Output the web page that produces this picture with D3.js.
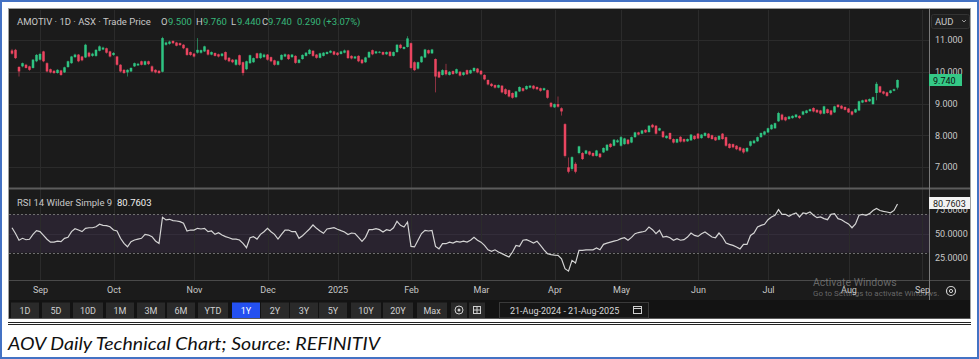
<!DOCTYPE html>
<html>
<head>
<meta charset="utf-8">
<script src="https://cdn.jsdelivr.net/npm/d3@7"></script>
<style>
  html, body { margin: 0; padding: 0; background: #fff; }
  svg { display: block; }
  text { font-family: Roboto, "Open Sans", sans-serif; }
</style>
</head>
<body>
<svg id="chart" width="979" height="359"></svg>
<script>
// ---- data (AOV daily, 21-Aug-2024 .. 21-Aug-2025) ----
var startDate = "2024-08-21", axisEndDate = "2025-09-01";
var asxHolidays = ["2024-12-25", "2024-12-26", "2025-01-01", "2025-01-27",
                   "2025-04-18", "2025-04-21", "2025-04-25", "2025-06-09"];

var open = [
10.67,10.69,10.15,10.17,10.22,10.17,10.12,10.33,10.38,10.64,
10.27,10.08,10.03,9.96,10.04,9.98,10.15,10.27,10.46,10.54,
10.48,10.45,10.60,10.50,10.50,10.66,10.70,10.74,10.64,10.53,
10.48,10.22,10.06,9.98,10.01,10.17,10.20,10.33,10.22,10.33,
10.17,10.06,10.03,10.00,10.85,10.88,10.97,10.92,10.90,10.85,
10.74,10.62,10.57,10.60,10.60,10.64,10.69,10.54,10.59,10.55,
10.50,10.62,10.44,10.38,10.22,10.52,10.30,10.08,10.27,10.30,
10.58,10.43,10.46,10.54,10.46,10.36,10.22,10.38,10.48,10.54,
10.46,10.50,10.28,10.40,10.50,10.56,10.66,10.54,10.44,10.50,
10.56,10.60,10.64,10.60,10.56,10.60,10.67,10.50,10.42,10.50,
10.38,10.30,10.45,10.68,10.58,10.60,10.62,10.55,10.63,10.50,
10.62,10.85,10.72,10.78,10.90,10.30,10.10,10.30,10.45,10.68,
10.58,10.40,10.00,9.90,10.05,9.90,10.02,9.95,10.00,9.90,
10.05,9.95,10.02,10.10,10.03,9.90,9.74,9.62,9.58,9.50,
9.56,9.45,9.42,9.33,9.20,9.38,9.48,9.45,9.50,9.56,
9.52,9.48,9.42,9.42,9.02,8.88,8.98,8.85,8.35,6.99,
6.94,7.10,7.44,7.44,7.42,7.49,7.44,7.35,7.42,7.46,
7.52,7.73,7.67,7.78,7.67,7.72,7.86,7.77,7.94,8.09,
8.05,8.17,8.10,8.33,8.30,8.15,8.12,7.91,8.07,7.88,
7.77,7.95,7.88,7.81,7.84,7.98,8.05,7.91,7.98,8.05,
8.00,7.94,7.86,8.05,7.94,7.73,7.72,7.67,7.62,7.58,
7.49,7.67,7.75,7.81,7.94,8.02,8.09,8.19,8.22,8.44,
8.65,8.57,8.51,8.54,8.57,8.61,8.65,8.70,8.76,8.86,
8.80,8.78,8.68,8.82,8.78,8.72,8.96,8.93,8.89,8.84,
8.75,8.72,8.78,9.03,9.12,9.07,8.98,9.33,9.54,9.38,
9.35,9.33,9.40,9.50];

var high = [
10.72,10.72,10.18,10.29,10.25,10.19,10.40,10.56,10.60,10.66,
10.30,10.10,10.05,10.08,10.06,10.16,10.35,10.50,10.57,10.56,
10.50,10.88,10.63,10.60,10.71,10.83,10.79,10.76,10.66,10.62,
10.50,10.24,10.08,10.08,10.14,10.29,10.28,10.35,10.35,10.35,
10.20,10.08,10.05,11.10,10.95,10.98,10.99,10.94,10.92,10.87,
10.76,10.64,10.59,11.06,10.70,10.82,10.71,10.64,10.61,10.57,
10.59,10.64,10.46,10.40,10.40,10.54,10.32,10.35,10.54,10.45,
10.60,10.60,10.57,10.56,10.48,10.38,10.35,10.55,10.58,10.56,
10.56,10.52,10.40,10.55,10.62,10.72,10.68,10.56,10.60,10.62,
10.64,10.68,10.66,10.62,10.66,10.70,10.69,10.52,10.50,10.52,
10.40,10.47,10.65,10.70,10.66,10.65,10.64,10.64,10.65,10.64,
10.87,10.88,10.80,11.12,10.92,10.33,10.32,10.50,10.72,10.70,
10.72,10.42,10.03,10.08,10.25,10.02,10.04,10.10,10.02,10.00,
10.07,10.07,10.14,10.12,10.05,9.92,9.76,9.65,9.60,9.60,
9.58,9.48,9.44,9.35,9.40,9.54,9.50,9.57,9.58,9.58,
9.54,9.50,9.50,9.44,9.05,9.00,9.22,8.88,8.38,7.30,
7.34,7.15,7.67,7.47,7.54,7.51,7.46,7.54,7.44,7.62,
7.72,7.75,7.88,7.88,7.98,7.92,7.88,7.96,8.11,8.11,
8.17,8.19,8.32,8.36,8.32,8.24,8.14,8.00,8.09,7.90,
7.90,7.97,7.90,7.90,8.04,8.00,8.07,8.04,8.10,8.07,
8.02,7.96,8.00,8.07,7.96,7.75,7.74,7.69,7.64,7.60,
7.62,7.83,7.86,7.96,8.09,8.14,8.24,8.35,8.40,8.74,
8.68,8.59,8.61,8.63,8.67,8.63,8.77,8.80,8.84,8.88,
8.82,8.80,8.93,8.84,8.80,8.93,8.98,8.95,8.91,8.86,
8.77,8.84,9.09,9.12,9.14,9.16,9.22,9.68,9.56,9.40,
9.37,9.43,9.47,9.76];

var low = [
10.54,10.40,9.85,10.14,10.10,10.03,10.10,10.30,10.35,10.30,
9.98,9.95,9.93,9.94,9.87,9.96,10.12,10.25,10.44,10.30,
10.33,10.43,10.45,10.47,10.47,10.64,10.68,10.57,10.45,10.50,
10.19,9.98,9.93,9.85,9.99,10.15,10.18,10.20,10.20,10.21,
9.98,9.95,9.93,9.98,10.82,10.85,10.87,10.80,10.81,10.71,
10.50,10.50,10.45,10.57,10.57,10.62,10.51,10.52,10.48,10.45,
10.47,10.35,10.30,10.27,10.19,10.19,9.88,10.05,10.25,10.28,
10.40,10.40,10.44,10.35,10.30,10.19,10.20,10.36,10.46,10.37,
10.44,10.25,10.26,10.38,10.48,10.54,10.47,10.41,10.42,10.48,
10.54,10.58,10.52,10.50,10.54,10.58,10.40,10.39,10.40,10.30,
10.24,10.28,10.43,10.52,10.56,10.58,10.52,10.53,10.47,10.48,
10.60,10.72,10.70,10.76,10.08,10.02,10.07,10.28,10.43,10.55,
10.56,9.35,9.80,9.88,9.88,9.88,9.90,9.93,9.85,9.87,
9.90,9.93,10.00,9.95,9.89,9.73,9.57,9.52,9.47,9.48,
9.32,9.27,9.19,9.15,9.17,9.36,9.37,9.43,9.48,9.44,
9.42,9.37,9.40,9.15,8.87,8.86,8.87,8.62,7.30,6.80,
6.88,6.80,7.40,7.22,7.40,7.36,7.32,7.33,7.28,7.44,
7.50,7.60,7.65,7.76,7.64,7.70,7.70,7.75,7.92,8.00,
8.03,8.07,8.08,8.22,8.02,8.13,7.91,7.89,7.85,7.74,
7.75,7.77,7.77,7.79,7.82,7.85,7.88,7.89,7.96,7.90,
7.86,7.82,7.84,7.86,7.64,7.58,7.59,7.53,7.49,7.42,
7.46,7.64,7.73,7.79,7.92,8.00,8.07,8.17,8.20,8.42,
8.46,8.44,8.49,8.52,8.55,8.51,8.63,8.68,8.74,8.72,
8.70,8.65,8.66,8.68,8.62,8.70,8.86,8.82,8.78,8.70,
8.62,8.70,8.76,9.01,9.03,9.05,8.96,9.10,9.33,9.28,
9.21,9.31,9.38,9.44];

var close = [
10.57,10.43,10.01,10.27,10.12,10.06,10.38,10.53,10.56,10.33,
10.01,9.98,9.96,10.06,9.90,10.14,10.33,10.48,10.54,10.33,
10.36,10.85,10.48,10.57,10.69,10.80,10.76,10.60,10.48,10.59,
10.22,10.01,9.96,10.06,10.12,10.27,10.25,10.22,10.33,10.24,
10.01,9.98,9.96,11.06,10.92,10.95,10.90,10.82,10.84,10.74,
10.53,10.53,10.48,10.69,10.68,10.80,10.54,10.62,10.50,10.48,
10.57,10.38,10.33,10.30,10.38,10.22,9.96,10.33,10.52,10.43,
10.43,10.58,10.54,10.38,10.33,10.22,10.33,10.53,10.55,10.40,
10.54,10.28,10.38,10.53,10.60,10.69,10.50,10.44,10.58,10.60,
10.62,10.66,10.54,10.53,10.64,10.67,10.43,10.42,10.48,10.33,
10.27,10.45,10.62,10.55,10.64,10.63,10.54,10.62,10.50,10.62,
10.85,10.75,10.78,11.05,10.12,10.05,10.30,10.48,10.70,10.58,
10.70,9.85,9.82,10.05,9.92,10.00,9.93,10.08,9.88,9.98,
9.92,10.05,10.12,9.98,9.92,9.76,9.60,9.55,9.50,9.58,
9.35,9.30,9.22,9.18,9.38,9.52,9.40,9.55,9.56,9.47,
9.45,9.40,9.48,9.18,8.90,8.98,8.90,8.75,7.35,6.85,
7.31,6.85,7.65,7.25,7.52,7.39,7.35,7.52,7.31,7.60,
7.70,7.63,7.86,7.84,7.94,7.90,7.73,7.94,8.09,8.02,
8.15,8.09,8.30,8.25,8.05,8.22,7.94,7.98,7.88,7.77,
7.88,7.80,7.80,7.88,8.02,7.88,7.90,8.02,8.07,7.92,
7.88,7.84,7.98,7.88,7.67,7.60,7.62,7.56,7.52,7.46,
7.60,7.81,7.83,7.94,8.07,8.12,8.22,8.33,8.38,8.70,
8.49,8.47,8.59,8.61,8.65,8.54,8.75,8.78,8.82,8.75,
8.72,8.68,8.91,8.70,8.65,8.91,8.89,8.84,8.80,8.72,
8.65,8.82,9.07,9.10,9.05,9.14,9.20,9.62,9.35,9.31,
9.24,9.41,9.45,9.74];

var rsi = [
56,50,43,45,43.5,44,49,53,52,48,
44,41,41,42,41.5,45,46,52,55,53.6,
52,55.4,56,56,57,59.6,58.5,58.2,57,53.6,
52.6,45,39.7,36.2,41.5,43.2,44.2,45,49,48.4,
46.7,42.2,39.7,66.9,64.1,64.8,63.5,63,62.3,60.6,
52.6,53.6,53.6,55.4,54.7,55.4,51.9,52.6,49.1,50.9,
48.4,46.7,45.6,44.2,44.2,43.2,39.7,35.2,45.6,46.7,
44.2,49.1,51.9,55.4,51.9,49.1,44.2,49.1,53.6,53.6,
51.9,51.9,45,47.7,51.2,54.7,58.9,55.4,52.6,50.2,
54.7,55.4,56.1,54.5,53,51.6,49,50.5,50,46,
41.8,46,54,54,55,54,51.6,54,53,56,
62.7,58.5,56.8,62,36.6,36,43,50,53.3,52.6,
53.3,36.6,34,39.4,39.4,41,40,41.8,41,42,
41,43,46,43,41,37.6,33,31.4,33,30.7,
29,27.2,25.5,30.7,37.6,36.6,43,43.6,42,40,
42,37.6,33,29,28,27.5,27.2,23.7,13.3,10.8,
22,19.2,32.4,32.4,33,33,33,35,33,38.7,
40,41,42,43,44.6,45.6,43,46,49.8,51,
51.6,52.6,56.8,54,49.8,53.3,46.3,47,45.6,43,
44.6,43,43.6,46.3,50.5,48,47,49.8,51.6,49,
46.3,45.6,50.5,46.3,40,38.7,37.6,36,34,38.7,
38.7,48,50.5,56.8,58.5,59.6,64.4,67.2,69,74.9,
70,70,68,70,71.4,67.2,71.4,70.7,72.4,69,
66.5,67.2,65.5,64.4,70,70.7,65.5,64.4,62,60,
56,60,69,70,69,70.7,74,76,74,73,
72.4,71.5,74,80.7603];

var priceTicks = [7, 8, 9, 10, 11];
var rsiTicks = [25, 50, 75];
var rsiBand = [30, 70];
var ranges = ["1D", "5D", "10D", "1M", "3M", "6M", "YTD", "1Y", "2Y", "3Y", "5Y", "10Y", "20Y", "Max"];
var activeRange = "1Y";
var dateRangeLabel = "21-Aug-2024 - 21-Aug-2025";
var caption = "AOV Daily Technical Chart; Source: REFINITIV";

// ---- trading calendar ----
var isoFmt = d3.utcFormat("%Y-%m-%d");
var days = d3.utcDays(new Date(startDate), d3.utcDay.offset(new Date(axisEndDate), 1))
  .filter(function(d) {
    var wd = d.getUTCDay();
    return wd !== 0 && wd !== 6 && asxHolidays.indexOf(isoFmt(d)) < 0;
  });
var monthIdx = [];
days.forEach(function(d, i) {
  if (i > 0 && d.getUTCMonth() !== days[i - 1].getUTCMonth()) monthIdx.push(i);
});
function monthLabel(i) {
  var d = days[i];
  return d.getUTCMonth() === 0 ? String(d.getUTCFullYear()) : d3.utcFormat("%b")(d);
}

// ---- colours ----
var UP = "#2fc482", DOWN = "#ea4560", BG = "#1b1b1b", GRID = "#2b2b2b", TXT = "#c8c8c8";

var svg = d3.select("#chart");

// outer frame
svg.append("rect").attr("x", 1).attr("y", 1).attr("width", 977).attr("height", 357)
  .attr("fill", "#fff").attr("stroke", "#4472c4").attr("stroke-width", 2);

// dark panel
svg.append("rect").attr("x", 8.5).attr("y", 8.5).attr("width", 962).attr("height", 310)
  .attr("fill", BG).attr("stroke", "#a0a0a0").attr("stroke-width", 1);
svg.append("rect").attr("x", 9).attr("y", 300).attr("width", 961).attr("height", 18.5)
  .attr("fill", "#131313");

// scales
var plotRight = 929;
var x = d3.scaleLinear().domain([0, days.length - 1]).range([12, 12 + 3.5 * (days.length - 1)]);
var yP = d3.scaleLinear().domain([7, 11]).range([167, 40]);
var yR = d3.scaleLinear().domain([30, 70]).range([252.7, 214.3]);

// clip paths
var defs = svg.append("defs");
defs.append("clipPath").attr("id", "clipP").append("rect")
  .attr("x", 9).attr("y", 30).attr("width", plotRight - 9).attr("height", 157);
defs.append("clipPath").attr("id", "clipR").append("rect")
  .attr("x", 9).attr("y", 190).attr("width", plotRight - 9).attr("height", 89);

// RSI band
svg.append("rect").attr("x", 9).attr("width", plotRight - 9)
  .attr("y", yR(rsiBand[1])).attr("height", yR(rsiBand[0]) - yR(rsiBand[1]))
  .attr("fill", "#29232f");

// grid lines
var grid = svg.append("g");
grid.selectAll(".hg").data(priceTicks).enter().append("line")
  .attr("x1", 9).attr("x2", plotRight)
  .attr("y1", function(d) { return Math.round(yP(d)) + 0.5; })
  .attr("y2", function(d) { return Math.round(yP(d)) + 0.5; })
  .attr("stroke", GRID);
grid.append("line").attr("x1", 9).attr("x2", plotRight)
  .attr("y1", Math.round(yR(50)) + 0.5).attr("y2", Math.round(yR(50)) + 0.5)
  .attr("stroke", "#332d3a");
grid.selectAll(".vg").data(monthIdx).enter().append("line")
  .attr("x1", function(d) { return Math.round(x(d)) + 0.5; })
  .attr("x2", function(d) { return Math.round(x(d)) + 0.5; })
  .attr("y1", 10).attr("y2", 280)
  .attr("stroke", GRID);

// RSI 30/70 dashed lines
svg.selectAll(".band").data(rsiBand).enter().append("line")
  .attr("x1", 9).attr("x2", plotRight)
  .attr("y1", function(d) { return Math.round(yR(d)) + 0.5; })
  .attr("y2", function(d) { return Math.round(yR(d)) + 0.5; })
  .attr("stroke", "#6e6e6e").attr("stroke-dasharray", "2,2");

// candles
var idx = d3.range(close.length);
var cg = svg.append("g").attr("clip-path", "url(#clipP)");
cg.selectAll(".wick").data(idx).enter().append("line")
  .attr("x1", function(i) { return x(i); }).attr("x2", function(i) { return x(i); })
  .attr("y1", function(i) { return yP(high[i]); }).attr("y2", function(i) { return yP(low[i]); })
  .attr("stroke", function(i) { return close[i] >= open[i] ? UP : DOWN; })
  .attr("stroke-opacity", 0.55).attr("stroke-width", 1);
cg.selectAll(".body").data(idx).enter().append("rect")
  .attr("x", function(i) { return x(i) - 1.25; }).attr("width", 2.5)
  .attr("y", function(i) { return yP(Math.max(open[i], close[i])); })
  .attr("height", function(i) { return Math.max(1, Math.abs(yP(open[i]) - yP(close[i]))); })
  .attr("fill", function(i) { return close[i] >= open[i] ? UP : DOWN; });

// RSI line
var line = d3.line().x(function(d, i) { return x(i); }).y(function(d) { return yR(d); });
svg.append("path").datum(rsi).attr("clip-path", "url(#clipR)")
  .attr("d", line).attr("fill", "none").attr("stroke", "#d4d4d4").attr("stroke-width", 1.2);

// pane separators
svg.append("line").attr("x1", 9).attr("x2", 970).attr("y1", 188.5).attr("y2", 188.5)
  .attr("stroke", "#5c5c5c").attr("stroke-width", 2);
svg.append("line").attr("x1", 9).attr("x2", 970).attr("y1", 280.5).attr("y2", 280.5)
  .attr("stroke", "#4a4a4a");

// OS watermark sits underneath the time-axis labels, as in the screenshot
svg.append("text").attr("x", 813).attr("y", 286).text("Activate Windows")
  .attr("fill", "#8a8a8a").attr("fill-opacity", 0.7).style("font-size", "10.5px");
svg.append("text").attr("x", 813).attr("y", 296).text("Go to Settings to activate Windows.")
  .attr("fill", "#8a8a8a").attr("fill-opacity", 0.7).style("font-size", "8px");

svg.append("line").attr("x1", plotRight + 0.5).attr("x2", plotRight + 0.5).attr("y1", 9).attr("y2", 300)
  .attr("stroke", "#7a7a7a");

// axes
function styleAxis(g) {
  g.select(".domain").remove();
  g.selectAll("text").attr("fill", TXT).style("font-size", "9px")
    .style("font-family", "Roboto, sans-serif");
}
svg.append("g").attr("transform", "translate(" + plotRight + ",0)")
  .call(d3.axisRight(yP).tickValues(priceTicks).tickFormat(d3.format(".3f")).tickSize(0).tickPadding(6))
  .call(styleAxis);
svg.append("g").attr("transform", "translate(" + plotRight + ",0)")
  .call(d3.axisRight(yR).tickValues(rsiTicks).tickFormat(d3.format(".4f")).tickSize(0).tickPadding(6))
  .call(styleAxis);
svg.append("g").attr("transform", "translate(0,284)")
  .call(d3.axisBottom(x).tickValues(monthIdx).tickFormat(monthLabel).tickSize(0).tickPadding(3))
  .call(styleAxis);

// last price / last rsi tags
var last = close.length - 1;
svg.append("rect").attr("x", plotRight).attr("y", 74).attr("width", 33).attr("height", 12)
  .attr("fill", "#34c986");
svg.append("text").attr("x", plotRight + 4).attr("y", 83.5).text(close[last].toFixed(3))
  .attr("fill", "#0e0e0e").style("font-size", "9px");
svg.append("rect").attr("x", plotRight).attr("y", 197).attr("width", 41).attr("height", 12)
  .attr("fill", "#f2f2f2");
svg.append("text").attr("x", plotRight + 4).attr("y", 206.5).text(rsi[last].toFixed(4))
  .attr("fill", "#1a1a1a").style("font-size", "9px");

// AUD selector
svg.append("rect").attr("x", 931.5).attr("y", 14.5).attr("width", 38).attr("height", 14)
  .attr("fill", "#1f1f1f").attr("stroke", "#333").attr("rx", 2);
svg.append("text").attr("x", 935).attr("y", 25).text("AUD").attr("fill", TXT).style("font-size", "9.5px");
svg.append("path").attr("d", "M962,20 l2,2 l2,-2").attr("fill", "none").attr("stroke", "#999");

// header legend
var chg = close[last] - close[last - 1];
var pct = chg / close[last - 1] * 100;
var GREEN = "#37b77a";
var header = [
  { t: "AMOTIV · 1D · ASX · Trade Price", x: 17, c: TXT },
  { t: "O", x: 161, c: TXT }, { t: open[last].toFixed(3), x: 168, c: GREEN },
  { t: "H", x: 196, c: TXT }, { t: high[last].toFixed(3), x: 203, c: GREEN },
  { t: "L", x: 231, c: TXT }, { t: low[last].toFixed(3), x: 237, c: GREEN },
  { t: "C", x: 262, c: TXT }, { t: close[last].toFixed(3), x: 268, c: GREEN },
  { t: chg.toFixed(3), x: 297, c: GREEN },
  { t: "(+" + pct.toFixed(2) + "%)", x: 323, c: GREEN }
];
svg.selectAll(".hdr").data(header).enter().append("text")
  .attr("x", function(d) { return d.x; }).attr("y", 25)
  .text(function(d) { return d.t; })
  .attr("fill", function(d) { return d.c; }).style("font-size", "9.5px");

svg.append("text").attr("x", 17).attr("y", 206).text("RSI 14 Wilder Simple 9")
  .attr("fill", TXT).style("font-size", "9.5px");
svg.append("text").attr("x", 117).attr("y", 206).text(rsi[last].toFixed(4))
  .attr("fill", "#f0f0f0").style("font-size", "9.5px");

// gear icon by the axis
var gear = svg.append("g").attr("transform", "translate(951,291)");
gear.append("circle").attr("r", 4.5).attr("fill", "none").attr("stroke", "#cfcfcf").attr("stroke-width", 1.2);
gear.append("circle").attr("r", 1.6).attr("fill", "none").attr("stroke", "#cfcfcf").attr("stroke-width", 1);

// range toolbar
var btnX = [25, 56, 88, 120, 151, 181, 213, 246, 275, 304, 333, 366, 398, 432];
var tb = svg.append("g");
tb.selectAll(".btn").data(ranges).enter().append("rect")
  .attr("x", function(d, i) { return btnX[i] - (d.length > 2 ? 15 : 14); })
  .attr("width", function(d) { return d.length > 2 ? 30 : 28; })
  .attr("y", 302.5).attr("height", 15.5)
  .attr("fill", function(d) { return d === activeRange ? "#2450f0" : "#2a2a2a"; });
tb.selectAll(".btnt").data(ranges).enter().append("text")
  .attr("x", function(d, i) { return btnX[i]; }).attr("y", 313.5)
  .attr("text-anchor", "middle").text(function(d) { return d; })
  .attr("fill", function(d) { return d === activeRange ? "#fff" : "#d0d0d0"; })
  .style("font-size", "9px");
tb.append("rect").attr("x", 451).attr("y", 302.5).attr("width", 16).attr("height", 15.5).attr("fill", "#2a2a2a");
tb.append("rect").attr("x", 469).attr("y", 302.5).attr("width", 16).attr("height", 15.5).attr("fill", "#2a2a2a");
tb.append("circle").attr("cx", 459).attr("cy", 310).attr("r", 4).attr("fill", "none").attr("stroke", "#cfcfcf");
tb.append("circle").attr("cx", 459).attr("cy", 310).attr("r", 1.5).attr("fill", "#cfcfcf");
tb.append("rect").attr("x", 473.5).attr("y", 306.5).attr("width", 7).attr("height", 7)
  .attr("fill", "none").attr("stroke", "#cfcfcf");
tb.append("path").attr("d", "M477,306.5 v7 M473.5,310 h7").attr("stroke", "#cfcfcf");

// date range box
tb.append("rect").attr("x", 499.5).attr("y", 302.5).attr("width", 149).attr("height", 15.5)
  .attr("fill", "#161616").attr("stroke", "#3a3a3a");
tb.append("text").attr("x", 510).attr("y", 313.5).text(dateRangeLabel)
  .attr("fill", "#d6d6d6").style("font-size", "9px");
tb.append("rect").attr("x", 633.5).attr("y", 306.5).attr("width", 8).attr("height", 7)
  .attr("fill", "none").attr("stroke", "#cfcfcf");
tb.append("line").attr("x1", 633.5).attr("x2", 641.5).attr("y1", 308.5).attr("y2", 308.5).attr("stroke", "#cfcfcf");

// double rule and caption
svg.append("line").attr("x1", 8).attr("x2", 971).attr("y1", 322.5).attr("y2", 322.5).attr("stroke", "#222");
svg.append("line").attr("x1", 8).attr("x2", 971).attr("y1", 324.5).attr("y2", 324.5).attr("stroke", "#222");
svg.append("text").attr("x", 8).attr("y", 350).text(caption)
  .attr("fill", "#111").style("font-family", "Lato, 'Open Sans', sans-serif")
  .style("font-style", "italic").style("font-size", "17px")
  .attr("textLength", 372).attr("lengthAdjust", "spacingAndGlyphs");
</script>
</body>
</html>
